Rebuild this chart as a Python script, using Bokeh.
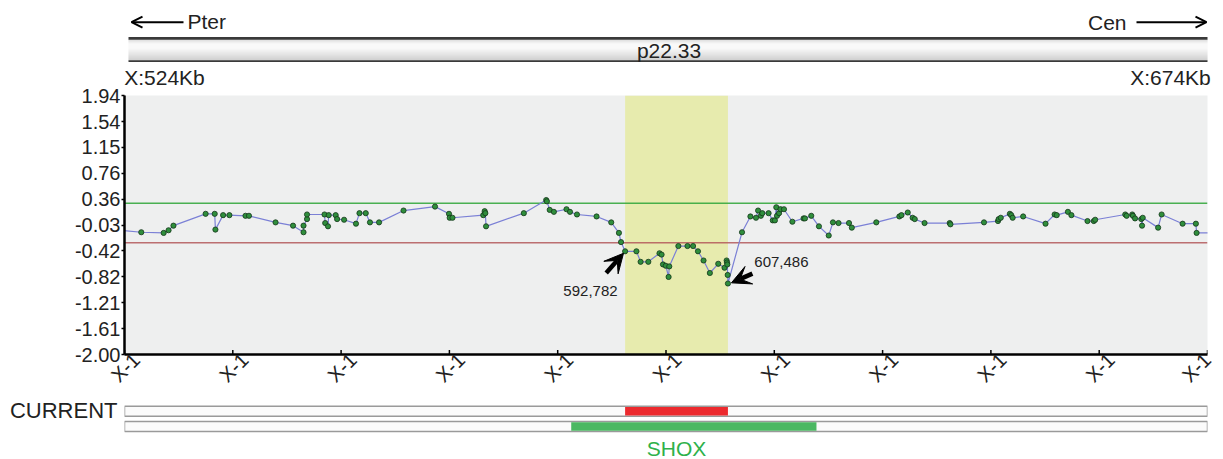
import numpy as np
from bokeh.plotting import figure
from bokeh.layouts import column
from bokeh.models import (Range1d, FixedTicker, NumeralTickFormatter, LinearAxis, CustomJSTickFormatter,
                          BoxAnnotation, Arrow, VeeHead, OpenHead, Label, Span)
from bokeh.embed import file_html
from bokeh.resources import INLINE

FONT = "Liberation Sans"

# ---------------- data ----------------
view_start_kb = 521.2
view_end_kb = 676.06
region_label_left = "X:524Kb"
region_label_right = "X:674Kb"
band_name = "p22.33"
pter_label = "Pter"
cen_label = "Cen"

ytick_labels = ["-2.00", "-1.61", "-1.21", "-0.82", "-0.42", "-0.03",
                "0.36", "0.76", "1.15", "1.54", "1.94"]
xtick_label = "X-1"
n_xticks = 11

gain_threshold = 0.3
loss_threshold = -0.3

current_start_kb = 592.782
current_end_kb = 607.486
current_start_text = "592,782"
current_end_text = "607,486"
shox_start_kb = 585.079
shox_end_kb = 620.146
track_label = "CURRENT"
gene_label = "SHOX"

probe_kb = [
    520.5, 523.6, 526.8, 527.5, 528.2, 532.8, 534.1, 534.2, 535.3, 536.2,
    538.5, 539.0, 542.8, 545.3, 546.8, 546.8, 547.3, 547.3, 549.8, 549.9,
    550.3, 550.4, 551.4, 551.6, 552.6, 554.3, 554.8, 555.7, 556.3, 557.6,
    561.1, 565.6, 567.6, 567.7, 568.1, 572.5, 572.7, 572.8, 572.9, 578.3,
    581.5, 581.6, 582.0, 582.6, 584.4, 584.9, 585.9, 588.7, 590.8, 591.9,
    592.2, 592.782, 594.4, 595.0, 596.1, 597.7, 598.0, 598.2, 598.6, 599.0,
    599.1, 600.4, 601.7, 602.5, 603.2, 604.0, 604.9, 606.1, 607.0, 607.3,
    607.35, 607.4, 607.45, 607.486, 609.5, 610.7, 611.5, 611.8, 612.2, 612.4,
    613.3, 613.9, 614.2, 614.4, 614.5, 614.8, 615.0, 615.5, 616.7, 618.3,
    618.5, 619.4, 620.5, 621.9, 622.5, 623.3, 624.8, 625.2, 628.7, 632.0,
    632.3, 633.2, 633.9, 634.2, 635.6, 639.2, 639.3, 644.1, 646.1, 646.2,
    646.5, 647.8, 648.0, 648.2, 649.7, 652.9, 654.2, 654.5, 656.1, 656.6,
    658.9, 659.8, 660.0, 664.3, 664.5, 665.3, 665.4, 665.7, 666.6, 666.7,
    666.8, 669.0, 669.5, 672.5, 674.4, 674.5, 677.0,
]
log_ratio = [
    -0.11, -0.14, -0.15, -0.11, -0.04, 0.14, 0.14, -0.10, 0.12, 0.12,
    0.11, 0.11, 0.01, -0.04, -0.14, -0.04, 0.06, 0.13, 0.13, -0.00,
    -0.05, 0.12, 0.12, 0.06, 0.05, -0.01, 0.15, 0.15, 0.01, 0.01,
    0.19, 0.25, 0.14, 0.08, 0.08, 0.12, 0.18, 0.15, -0.05, 0.15,
    0.35, 0.33, 0.20, 0.17, 0.21, 0.17, 0.13, 0.10, 0.01, -0.15,
    -0.29, -0.43, -0.43, -0.59, -0.59, -0.46, -0.48, -0.63, -0.65, -0.82,
    -0.66, -0.35, -0.35, -0.35, -0.43, -0.57, -0.76, -0.62, -0.68, -0.57,
    -0.60, -0.63, -0.79, -0.92, -0.14, 0.10, 0.08, 0.19, 0.11, 0.15,
    0.15, 0.04, 0.04, 0.24, 0.11, 0.15, 0.21, 0.21, 0.02, 0.07,
    0.07, 0.11, -0.05, -0.19, 0.01, -0.00, -0.00, -0.07, 0.01, 0.10,
    0.12, 0.16, 0.08, 0.06, -0.00, -0.00, -0.02, 0.01, 0.03, 0.06,
    0.08, 0.14, 0.12, 0.08, 0.10, -0.01, 0.13, 0.12, 0.17, 0.12,
    0.03, 0.03, 0.05, 0.13, 0.11, 0.13, 0.11, 0.07, 0.06, -0.04,
    0.08, -0.07, 0.13, -0.01, -0.01, -0.15, -0.15,
]

# ---------------- layout constants ----------------
W = 1223
LEFT = 124
RIGHT = 16
TOP_H = 62
MAIN_TOP = 32
MAIN_BOTTOM = 42
FRAME_H = 261
MAIN_H = MAIN_TOP + FRAME_H + MAIN_BOTTOM
BOT_H = 459 - TOP_H - MAIN_H
BOT_Y0 = TOP_H + MAIN_H
frame_w = W - LEFT - RIGHT
kb_per_px = (view_end_kb - view_start_kb) / frame_w
TXT = "#222222"


def px_x(px):
    """page pixel column -> kb (all three panels share the same frame)"""
    return view_start_kb + (px - LEFT) * kb_per_px


def deco_fig(h):
    f = figure(width=W, height=h, x_range=Range1d(view_start_kb, view_end_kb), y_range=Range1d(h, 0),
               output_backend="svg", toolbar_location=None, min_border_left=LEFT,
               min_border_right=RIGHT, min_border_top=0, min_border_bottom=0,
               x_axis_location=None, y_axis_location=None)
    f.grid.visible = False
    f.outline_line_color = None
    f.background_fill_color = "white"
    f.border_fill_color = "white"
    return f


def label(fig, x, y, text, size, align="left", color=TXT):
    fig.add_layout(Label(x=x, y=y, text=text, text_align=align, text_baseline="middle",
                         text_font=FONT, text_font_size=size, text_color=color))


def style_text_axis(ax, size, standoff):
    ax.axis_line_color = None
    ax.major_tick_line_color = None
    ax.minor_tick_line_color = None
    ax.major_tick_out = 0
    ax.major_tick_in = 0
    ax.major_label_standoff = standoff
    ax.major_label_text_font = FONT
    ax.major_label_text_font_size = size
    ax.major_label_text_color = TXT


# ---------------- top: chromosome band ----------------
top = deco_fig(TOP_H)
band_l, band_r = px_x(128), px_x(1209)
ys = np.arange(39.0, 60.0, 1.0)
cols = []
for yy in ys:
    t = (yy - 39.0) / 21.0
    if t < 0.2:
        g = 0.83 + (0.97 - 0.83) * (t / 0.2)
    elif t < 0.4:
        g = 0.97
    else:
        g = 0.97 - (0.97 - 0.74) * ((t - 0.4) / 0.6)
    c = int(round(g * 255))
    cols.append("#%02x%02x%02x" % (c, c, c))
top.quad(left=band_l, right=band_r, top=ys, bottom=ys + 1.05, fill_color=cols, line_color=None)
top.quad(left=band_l, right=band_r, top=[36.6, 59.8], bottom=[39.2, 62.0],
         fill_color="#3a3a3a", line_color=None)
label(top, (band_l + band_r) / 2, 49.5, band_name, "21px", "center")
top.add_layout(Arrow(x_start=px_x(183), y_start=21.7, x_end=px_x(131), y_end=21.7, line_width=2,
                     line_color="black", end=OpenHead(size=11, line_width=2, line_color="black")))
label(top, px_x(187), 20.8, pter_label, "21px", "left")
top.add_layout(Arrow(x_start=px_x(1136), y_start=21.7, x_end=px_x(1206), y_end=21.7, line_width=2,
                     line_color="black", end=OpenHead(size=11, line_width=2, line_color="black")))
label(top, px_x(1126), 21.5, cen_label, "21px", "right")

# ---------------- main chart ----------------
shift_px = 12
p = figure(width=W, height=MAIN_H, x_range=Range1d(view_start_kb, view_end_kb),
           y_range=Range1d(-2.0, 1.94), output_backend="svg", toolbar_location=None,
           min_border_left=LEFT, min_border_right=RIGHT, min_border_top=MAIN_TOP,
           min_border_bottom=MAIN_BOTTOM, x_axis_location=None)
p.grid.visible = False
p.outline_line_color = None
p.background_fill_color = "#eeefef"
p.border_fill_color = "white"

# region end labels above the plot (an axis in frame-pixel units)
p.extra_x_ranges = {"px": Range1d(0, frame_w)}
region_ticks = [40, 1046]
top_axis = LinearAxis(x_range_name="px", ticker=FixedTicker(ticks=region_ticks),
                      major_label_overrides={region_ticks[0]: region_label_left,
                                             region_ticks[1]: region_label_right})
style_text_axis(top_axis, "21px", 7)
p.add_layout(top_axis, "above")

# rotated X-1 labels below
xticks = list(np.linspace(view_start_kb, view_end_kb, n_xticks))
lab_lo = view_start_kb - shift_px * kb_per_px
lab_hi = view_end_kb - shift_px * kb_per_px
p.extra_x_ranges["lab"] = Range1d(lab_lo, lab_hi)
xaxis = LinearAxis(x_range_name="lab", ticker=FixedTicker(ticks=xticks[:-1] + [lab_hi]),
                   major_label_orientation=np.pi / 4)
xaxis.formatter = CustomJSTickFormatter(code="return '%s'" % xtick_label)
style_text_axis(xaxis, "20px", 2)
xaxis.axis_line_color = "black"
xaxis.axis_line_width = 2.5
p.add_layout(xaxis, "below")

yax = p.yaxis[0]
yax.ticker = FixedTicker(ticks=[float(s) for s in ytick_labels])
yax.formatter = NumeralTickFormatter(format="0.00")
yax.axis_line_color = "black"
yax.axis_line_width = 2.5
yax.major_tick_line_color = "black"
yax.major_tick_line_width = 1.5
yax.major_tick_out = 3
yax.major_tick_in = 0
yax.minor_tick_line_color = None
yax.major_label_text_font = FONT
yax.major_label_text_color = TXT
yax.major_label_text_font_size = "20px"
yax.major_label_standoff = 1

p.add_layout(BoxAnnotation(left=current_start_kb, right=current_end_kb, fill_color="#e7ebae",
                           fill_alpha=1.0, line_color=None, level="underlay"))
p.add_layout(Span(location=gain_threshold, dimension="width", line_color="#36a83f",
                  line_width=1.5, line_alpha=0.9, level="underlay"))
p.add_layout(Span(location=loss_threshold, dimension="width", line_color="#b3585a",
                  line_width=1.5, line_alpha=0.85, level="underlay"))

# small inward tick marks on the bottom axis
px_per_unit_y = FRAME_H / (1.94 + 2.0)
p.segment(x0=xticks, y0=[-2.0] * n_xticks, x1=xticks, y1=[-2.0 + 4.5 / px_per_unit_y] * n_xticks,
          line_color="black", line_width=1.5)

p.line(probe_kb, log_ratio, line_color="#7b80d6", line_width=1.2)
p.scatter(probe_kb, log_ratio, size=5.2, fill_color="#2f8e3c", line_color="#14361b", line_width=0.8)

p.add_layout(Arrow(x_start=current_start_kb - 2.7, y_start=-0.76,
                   x_end=current_start_kb - 0.23, y_end=-0.46, line_width=4.5, line_color="black",
                   end=VeeHead(size=19, fill_color="black", line_color="black")))
p.add_layout(Arrow(x_start=current_end_kb + 3.5, y_start=-0.77,
                   x_end=current_end_kb + 0.5, y_end=-0.91, line_width=4.5, line_color="black",
                   end=VeeHead(size=19, fill_color="black", line_color="black")))
p.add_layout(Label(x=current_start_kb - 4.95, y=-1.03, text=current_start_text, text_align="center",
                   text_baseline="middle", text_font=FONT, text_font_size="15px", text_color=TXT))
p.add_layout(Label(x=current_end_kb + 7.65, y=-0.60, text=current_end_text, text_align="center",
                   text_baseline="middle", text_font=FONT, text_font_size="15px", text_color=TXT))

# ---------------- bottom: tracks ----------------
bot = deco_fig(BOT_H)
b0 = BOT_Y0
bot.quad(left=[view_start_kb, view_start_kb], right=[view_end_kb, view_end_kb],
         top=[405.7 - b0, 421.0 - b0], bottom=[415.7 - b0, 431.0 - b0],
         fill_color="#fbfbfb", line_color="#9a9a9a", line_width=1.5)
bot.quad(left=[current_start_kb], right=[current_end_kb], top=[406.5 - b0], bottom=[415.0 - b0],
         fill_color="#ec2a2e", line_color=None)
bot.quad(left=[shox_start_kb], right=[shox_end_kb], top=[421.8 - b0], bottom=[430.3 - b0],
         fill_color="#4bb862", line_color=None)
track_tick = 410 - b0
track_axis = LinearAxis(ticker=FixedTicker(ticks=[track_tick]),
                        major_label_overrides={track_tick: track_label})
style_text_axis(track_axis, "22px", 7)
bot.add_layout(track_axis, "left")
label(bot, (current_start_kb + current_end_kb) / 2, 447.5 - b0, gene_label, "21px", "center", "#2eb14b")

layout = column(top, p, bot, spacing=0)
html = file_html(layout, INLINE, title="plot")
html = html.replace("<head>", "<head><style>html,body{margin:0;padding:0;}</style>", 1)
open("out.html", "w").write(html)
